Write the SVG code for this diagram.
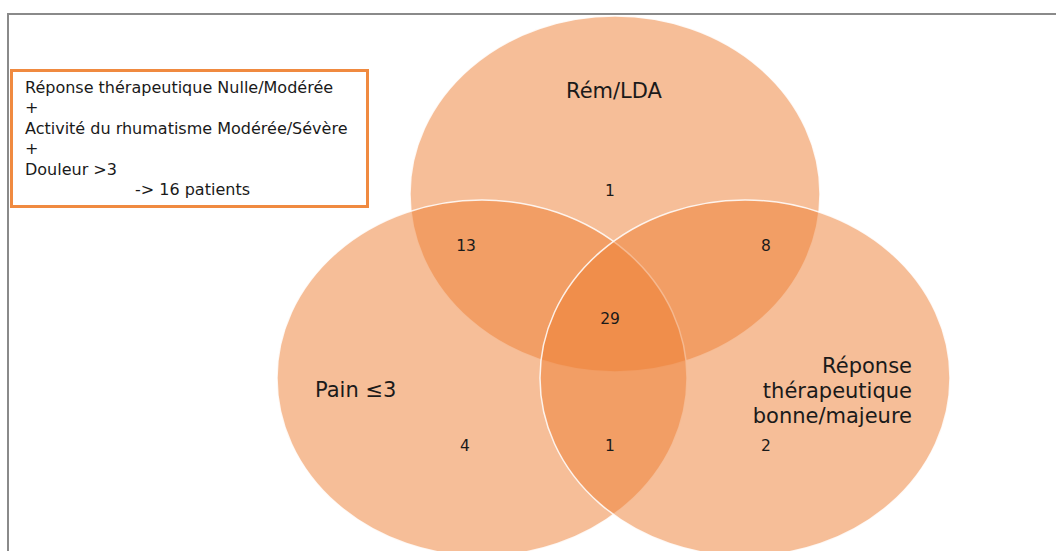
<svg xmlns="http://www.w3.org/2000/svg" width="1056" height="551" viewBox="0 0 1056 551">
<style>
.set{fill:#ED7D31;fill-opacity:0.5;stroke:#ffffff;stroke-width:1.5;stroke-opacity:0.85}
.t{font-family:"DejaVu Sans","Open Sans",sans-serif;fill:#1a1a1a}
.n{font-size:15.5px;text-anchor:middle}
.lbl{font-size:21px}
.box{font-size:16px}
</style>
<rect width="1056" height="551" fill="#ffffff"/>
<path d="M8,551 V14 H1056" fill="none" stroke="#8a8a8a" stroke-width="2"/>
<g id="set-rem">
<ellipse class="set" cx="615" cy="194" rx="205" ry="178"/>
</g>
<g id="set-pain">
<ellipse class="set" cx="482" cy="378" rx="205" ry="178"/>
</g>
<g id="set-reponse">
<ellipse class="set" cx="745" cy="378" rx="205" ry="178"/>
</g>
<g id="connectors"></g>
<g id="labels" class="t">
<text class="lbl" x="614" y="98" text-anchor="middle">Rém/LDA</text>
<text class="lbl" x="315" y="397">Pain ≤3</text>
<text class="lbl" text-anchor="end"><tspan x="912" y="373">Réponse</tspan><tspan x="912" y="398">thérapeutique</tspan><tspan x="912" y="423">bonne/majeure</tspan></text>
<text class="n" x="610" y="196">1</text>
<text class="n" x="466" y="251">13</text>
<text class="n" x="766" y="251">8</text>
<text class="n" x="610" y="324">29</text>
<text class="n" x="465" y="451">4</text>
<text class="n" x="610" y="451">1</text>
<text class="n" x="766" y="451">2</text>
</g>
<g id="legend-box">
<rect x="11.5" y="70.5" width="356" height="136" fill="#ffffff" stroke="#F08A40" stroke-width="3"/>
<text class="t box"><tspan x="25" y="93">Réponse thérapeutique Nulle/Modérée</tspan><tspan x="25" y="113">+</tspan><tspan x="25" y="134">Activité du rhumatisme Modérée/Sévère</tspan><tspan x="25" y="154">+</tspan><tspan x="25" y="175">Douleur &gt;3</tspan><tspan x="135" y="195">-&gt; 16 patients</tspan></text>
</g>
</svg>
